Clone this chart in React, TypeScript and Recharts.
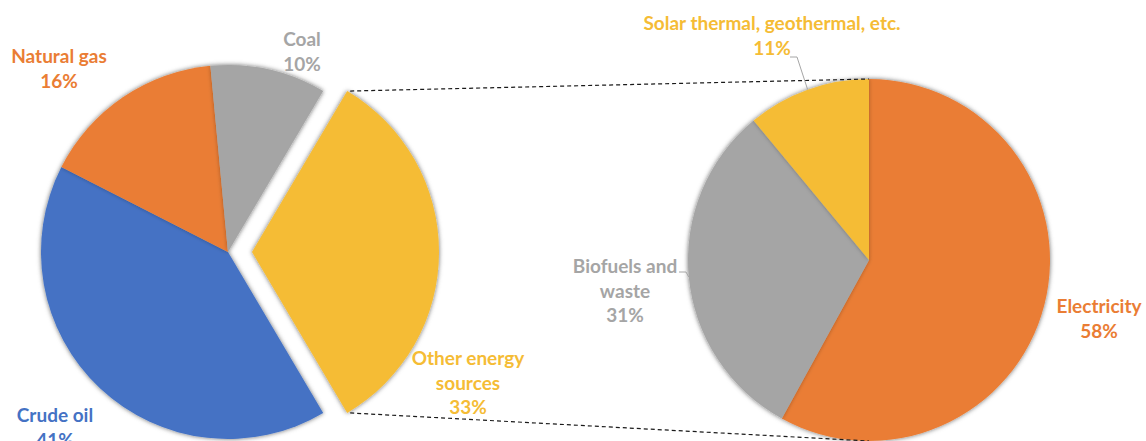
import React from "react";
import { Cell, Pie, PieChart } from "recharts";

// primary energy mix (left pie)
const sourceNames = ["Other energy sources", "Crude oil", "Natural gas", "Coal"];
const sourceShares = [33, 41, 16, 10];
const sourceColors = ["#F5BC35", "#4472C4", "#EA7D34", "#A5A5A5"];
const sourceLabelLines = [["Other energy", "sources"], ["Crude oil"], ["Natural gas"], ["Coal"]];

// breakdown of "other energy sources" (right pie)
const otherNames = ["Electricity", "Biofuels and waste", "Solar thermal, geothermal, etc."];
const otherShares = [58, 31, 11];
const otherColors = ["#EA7D34", "#A5A5A5", "#F5BC35"];
const otherLabelLines = [["Electricity"], ["Biofuels and", "waste"], ["Solar thermal, geothermal, etc."]];

const sourceData = sourceNames.map((name, i) => ({ name, value: sourceShares[i] }));
const otherData = otherNames.map((name, i) => ({ name, value: otherShares[i] }));

const W = 1146;
const H = 441;
const LEFT = { cx: 228, cy: 252, r: 187 };
const EXPLODE = 24;
const RIGHT = { cx: 869, cy: 260, r: 181 };
const FONT = { fontFamily: "Lato, 'Open Sans', sans-serif", fontWeight: 700, fontSize: 19 };
const LINE_H = 24.5;
const RAD = Math.PI / 180;

// first slice ("other") is centred on 3 o'clock
const sourceTotal = sourceShares.reduce((a, b) => a + b, 0);
const OTHER_HALF = (sourceShares[0] / sourceTotal) * 180;

// label placement: offset from the pie centre to text centre / first baseline
const sourceLabelOffsets = [[216, 113], [-173, 170], [-169, -189], [74, -206]];
const otherLabelOffsets = [[230, 53], [-244, 13], [-97, -230]];
const otherLeaders: (number[] | null)[] = [null, [54, -1], [18, 27]];

const polar = (cx: number, cy: number, r: number, a: number) => ({
  x: cx + Math.cos(-a * RAD) * r,
  y: cy + Math.sin(-a * RAD) * r,
});

function makeLabel(
  lines: string[][],
  shares: number[],
  colors: string[],
  offsets: number[][],
  show: (i: number) => boolean,
  leaders?: (number[] | null)[],
) {
  return (p: any) => {
    const i = p.index;
    if (!show(i)) return null;
    const x = p.cx + offsets[i][0];
    const y = p.cy + offsets[i][1];
    const lead = leaders?.[i];
    let leader = null;
    if (lead) {
      const edge = polar(p.cx, p.cy, p.outerRadius, p.midAngle);
      const sx = x + lead[0];
      const sy = y + lead[1];
      leader = (
        <polyline
          points={`${sx},${sy} ${sx + 7},${sy} ${edge.x},${edge.y}`}
          fill="none"
          stroke="#A6A6A6"
          strokeWidth={1}
        />
      );
    }
    return (
      <g key={`lbl-${i}`}>
        {leader}
        <text x={x} y={y} textAnchor="middle" fill={colors[i]} style={FONT}>
          {lines[i].map((l, k) => (
            <tspan key={k} x={x} dy={k ? LINE_H : 0}>
              {l}
            </tspan>
          ))}
          <tspan x={x} dy={LINE_H}>{`${shares[i]}%`}</tspan>
        </text>
      </g>
    );
  };
}

// dashed lines joining the exploded slice to the breakdown pie
function connectorLabel(p: any) {
  const base = makeLabel(sourceLabelLines, sourceShares, sourceColors, sourceLabelOffsets, (i) => i === 0)(p);
  if (p.index !== 0) return null;
  const top = polar(p.cx, p.cy, p.outerRadius, OTHER_HALF);
  const bottom = polar(p.cx, p.cy, p.outerRadius, -OTHER_HALF);
  return (
    <g key="connectors">
      <line x1={top.x + 3} y1={top.y} x2={RIGHT.cx} y2={RIGHT.cy - RIGHT.r} stroke="#1a1a1a" strokeWidth={1.2} strokeDasharray="4 3" />
      <line x1={bottom.x + 3} y1={bottom.y} x2={RIGHT.cx} y2={RIGHT.cy + RIGHT.r} stroke="#1a1a1a" strokeWidth={1.2} strokeDasharray="4 3" />
      {base}
    </g>
  );
}

export default function App() {
  return (
    <div style={{ position: "absolute", left: 0, top: 0, width: W, height: H, background: "#fff" }}>
      <style>{`.pie-shadow { filter: url(#softShadow); }`}</style>
      <svg width={0} height={0} style={{ position: "absolute" }}>
        <defs>
          <filter id="softShadow" x="-10%" y="-10%" width="120%" height="120%">
            <feDropShadow dx={0} dy={0} stdDeviation={2} floodColor="#000" floodOpacity={0.3} />
          </filter>
        </defs>
      </svg>
      <PieChart width={W} height={H} margin={{ top: 0, right: 0, bottom: 0, left: 0 }}>
        {/* main pie without the exploded slice */}
        <Pie
          className="pie-shadow"
          data={sourceData}
          dataKey="value"
          cx={LEFT.cx}
          cy={LEFT.cy}
          outerRadius={LEFT.r}
          startAngle={OTHER_HALF}
          endAngle={OTHER_HALF - 360}
          stroke="none"
          isAnimationActive={false}
        >
          {sourceData.map((d, i) => (
            <Cell key={d.name} fill={i === 0 ? "none" : sourceColors[i]} />
          ))}
        </Pie>
        {/* exploded slice */}
        <Pie
          className="pie-shadow"
          data={sourceData}
          dataKey="value"
          cx={LEFT.cx + EXPLODE}
          cy={LEFT.cy}
          outerRadius={LEFT.r}
          startAngle={OTHER_HALF}
          endAngle={OTHER_HALF - 360}
          stroke="none"
          isAnimationActive={false}
        >
          {sourceData.map((d, i) => (
            <Cell key={d.name} fill={i === 0 ? sourceColors[0] : "none"} />
          ))}
        </Pie>
        {/* breakdown pie */}
        <Pie
          className="pie-shadow"
          data={otherData}
          dataKey="value"
          cx={RIGHT.cx}
          cy={RIGHT.cy}
          outerRadius={RIGHT.r}
          startAngle={90}
          endAngle={-270}
          stroke="none"
          isAnimationActive={false}
        >
          {otherData.map((d, i) => (
            <Cell key={d.name} fill={otherColors[i]} />
          ))}
        </Pie>

        {/* label-only pies (kept out of the shadow filter) */}
        <Pie
          data={sourceData}
          dataKey="value"
          cx={LEFT.cx}
          cy={LEFT.cy}
          outerRadius={LEFT.r}
          startAngle={OTHER_HALF}
          endAngle={OTHER_HALF - 360}
          fill="none"
          stroke="none"
          labelLine={false}
          label={makeLabel(sourceLabelLines, sourceShares, sourceColors, sourceLabelOffsets, (i) => i !== 0)}
          isAnimationActive={false}
        />
        <Pie
          data={sourceData}
          dataKey="value"
          cx={LEFT.cx + EXPLODE}
          cy={LEFT.cy}
          outerRadius={LEFT.r}
          startAngle={OTHER_HALF}
          endAngle={OTHER_HALF - 360}
          fill="none"
          stroke="none"
          labelLine={false}
          label={connectorLabel}
          isAnimationActive={false}
        />
        <Pie
          data={otherData}
          dataKey="value"
          cx={RIGHT.cx}
          cy={RIGHT.cy}
          outerRadius={RIGHT.r}
          startAngle={90}
          endAngle={-270}
          fill="none"
          stroke="none"
          labelLine={false}
          label={makeLabel(otherLabelLines, otherShares, otherColors, otherLabelOffsets, () => true, otherLeaders)}
          isAnimationActive={false}
        />
      </PieChart>
    </div>
  );
}
